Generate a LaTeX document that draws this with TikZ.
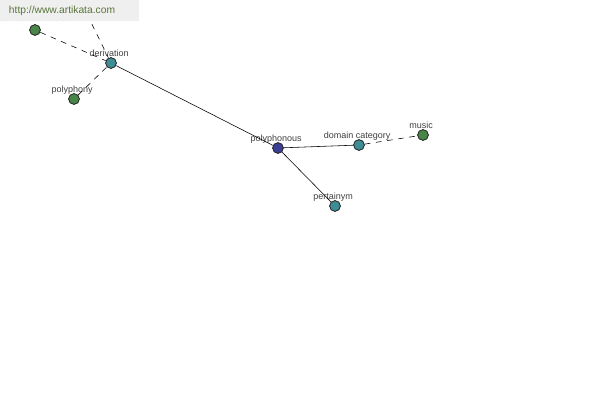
\documentclass[tikz,border=0pt]{standalone}
\usepackage{fontspec}
\setmainfont{Liberation Sans}
\definecolor{headblue}{RGB}{60,62,150}
\definecolor{relteal}{RGB}{62,140,148}
\definecolor{wordgreen}{RGB}{72,134,72}
\definecolor{bannergray}{RGB}{239,239,239}
\definecolor{bannertext}{RGB}{88,118,58}
\begin{document}
\begin{tikzpicture}[
    x=0.025cm, y=-0.025cm,
    thin,
    lbl/.style={font=\fontsize{6.4}{7}\selectfont, text=black!75, inner sep=0.3pt, text height=0.75em, text depth=0.25em, xshift=-1.4pt, yshift=-2.4pt},
    wordnode/.style={circle, draw=black!85, line width=0.6pt, minimum size=0.27cm, inner sep=0pt},
    headnode/.style={wordnode, fill=headblue},
    relnode/.style={wordnode, fill=relteal},
    leafnode/.style={wordnode, fill=wordgreen},
    weak/.style={dashed, dash pattern=on 4pt off 4pt},
]
\useasboundingbox (0,0) rectangle (600,400);

\node[headnode, label={[lbl]above:polyphonous}] (polyphonous) at (278,148) {};
\node[relnode, label={[lbl]above:derivation}] (derivation) at (111,63) {};
\node[relnode, label={[lbl]above:domain category}] (domcat) at (359,145) {};
\node[relnode, label={[lbl]above:pertainym}] (pertainym) at (335,206) {};
\node[leafnode, label={[lbl]above:polyphony}] (polyphony) at (74,99) {};
\node[leafnode, label={[lbl, yshift=1.1pt]above:concerted music}] (concerted) at (35,30) {};
\node[leafnode, label={[lbl]above:music}] (music) at (423,135) {};
\coordinate (offtop) at (82,4);

\draw (derivation) -- (polyphonous);
\draw (polyphonous) -- (domcat);
\draw (polyphonous) -- (pertainym);
\draw[weak] (concerted) -- (derivation);
\draw[weak] (polyphony) -- (derivation);
\draw[weak] (offtop) -- (derivation);
\draw[weak] (domcat) -- (music);

\node[fill=bannergray, minimum width=3.475cm, minimum height=0.525cm, anchor=north west, inner sep=0pt] (banner) at (0,0) {};
\node[font=\fontsize{7.3}{8}\selectfont, text=bannertext, inner sep=0pt] (url) at (62,11) {http://www.artikata.com};

\end{tikzpicture}
\end{document}
